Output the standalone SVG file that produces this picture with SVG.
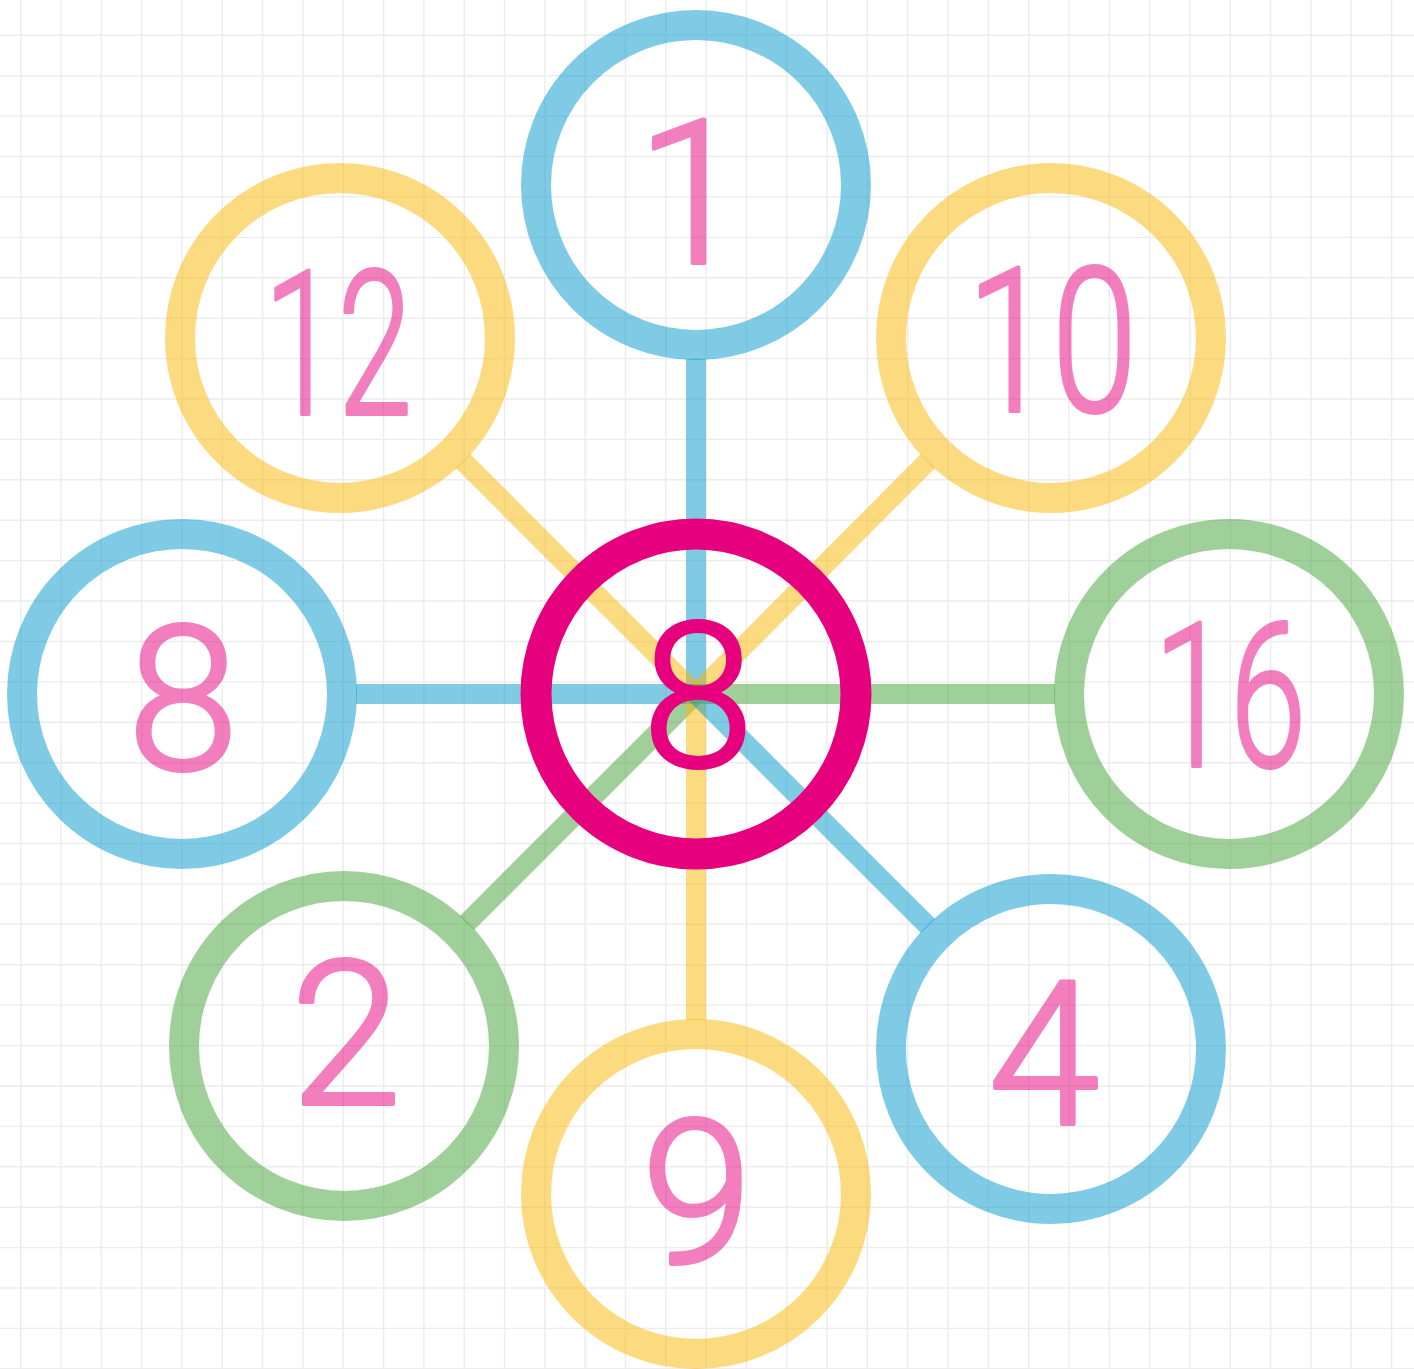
<svg xmlns="http://www.w3.org/2000/svg" width="1414" height="1369" viewBox="0 0 1414 1369">
<style>
.grid{stroke:#ececec;stroke-width:1.4;fill:none}
.ln{stroke-width:20;stroke-linecap:butt;stroke-opacity:0.5;fill:none}
.ring{stroke-width:30;fill:none;stroke-opacity:0.5}
.blue{stroke:#0098ce}
.yellow{stroke:#f9b500}
.green{stroke:#41a135}
.num{font-family:Roboto,"Liberation Sans",Arial,sans-serif;font-weight:300;font-size:200px;text-anchor:middle;fill:#e6007e;stroke:#e6007e;stroke-width:4;stroke-linejoin:round;opacity:0.5}
.num.main{opacity:1}
</style>
<rect width="1414" height="1369" fill="#ffffff"/>
<g id="grid">
<path class="grid" d="M20.7 0V1369M61 0V1369M101.3 0V1369M141.7 0V1369M182 0V1369M222.3 0V1369M262.6 0V1369M302.9 0V1369M343.3 0V1369M383.6 0V1369M423.9 0V1369M464.2 0V1369M504.5 0V1369M544.9 0V1369M585.2 0V1369M625.5 0V1369M665.8 0V1369M706.1 0V1369M746.5 0V1369M786.8 0V1369M827.1 0V1369M867.4 0V1369M907.7 0V1369M948.1 0V1369M988.4 0V1369M1028.7 0V1369M1069 0V1369M1109.3 0V1369M1149.7 0V1369M1190 0V1369M1230.3 0V1369M1270.6 0V1369M1310.9 0V1369M1351.3 0V1369M1391.6 0V1369"/>
<path class="grid" d="M0 35.3H1414M0 75.7H1414M0 116.1H1414M0 156.5H1414M0 196.9H1414M0 237.4H1414M0 277.8H1414M0 318.2H1414M0 358.6H1414M0 399H1414M0 439.4H1414M0 479.8H1414M0 520.2H1414M0 560.6H1414M0 601H1414M0 641.5H1414M0 681.9H1414M0 722.3H1414M0 762.7H1414M0 803.1H1414M0 843.5H1414M0 883.9H1414M0 924.3H1414M0 964.7H1414M0 1005.1H1414M0 1045.6H1414M0 1086H1414M0 1126.4H1414M0 1166.8H1414M0 1207.2H1414M0 1247.6H1414M0 1288H1414M0 1328.4H1414M0 1368.8H1414"/>
</g>
<g id="connectors">
<line class="ln blue" x1="696" y1="694" x2="696" y2="359"/>
<line class="ln yellow" x1="696" y1="694" x2="463" y2="461"/>
<line class="ln yellow" x1="696" y1="694" x2="928" y2="461"/>
<line class="ln blue" x1="696" y1="694" x2="356" y2="694"/>
<line class="ln green" x1="696" y1="694" x2="1055" y2="694"/>
<line class="ln green" x1="696" y1="694" x2="467" y2="923"/>
<line class="ln yellow" x1="696" y1="694" x2="696" y2="1020"/>
<line class="ln blue" x1="696" y1="694" x2="928" y2="926"/>
</g>
<g id="node-1"><circle class="ring blue" cx="696" cy="185" r="160"/><text class="num" x="692" y="263">1</text></g>
<g id="node-12"><circle class="ring yellow" cx="340" cy="338" r="160"/><text class="num" x="338" y="414" textLength="148" lengthAdjust="spacingAndGlyphs">12</text></g>
<g id="node-10"><circle class="ring yellow" cx="1051" cy="338" r="160"/><text class="num" x="1052" y="411" textLength="170" lengthAdjust="spacingAndGlyphs">10</text></g>
<g id="node-8-left"><circle class="ring blue" cx="182" cy="694" r="160"/><text class="num" x="183" y="769">8</text></g>
<g id="node-16"><circle class="ring green" cx="1229" cy="694" r="160"/><text class="num" x="1230" y="766" textLength="152" lengthAdjust="spacingAndGlyphs">16</text></g>
<g id="node-2"><circle class="ring green" cx="344" cy="1046" r="160"/><text class="num" x="346" y="1104">2</text></g>
<g id="node-9"><circle class="ring yellow" cx="696" cy="1194" r="160"/><text class="num" x="697" y="1263">9</text></g>
<g id="node-4"><circle class="ring blue" cx="1051" cy="1049" r="160"/><text class="num" x="1044" y="1124">4</text></g>
<g id="node-center"><circle cx="696" cy="694" r="160" fill="none" stroke="#e6007e" stroke-width="31"/><text class="num main" x="698" y="766">8</text></g>
</svg>
